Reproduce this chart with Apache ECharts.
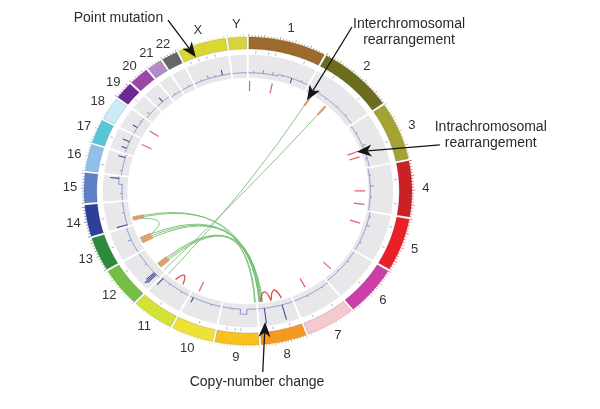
<!DOCTYPE html>
<html><head><meta charset="utf-8">
<script src="https://cdn.jsdelivr.net/npm/echarts@6/dist/echarts.min.js"></script>
<style>html,body{margin:0;padding:0;background:#fff}#c{width:600px;height:409px}</style>
</head><body><div id="c"></div>
<script>
// ---------------- DATA ----------------
const chromosomes = ['1','2','3','4','5','6','7','8','9','10','11','12','13','14','15','16','17','18','19','20','21','22','X','Y'];
const chromLengthsMb = [249.3,243.2,198.0,191.2,180.9,171.1,159.1,146.4,141.2,135.5,135.0,133.9,115.2,107.3,102.5,90.4,81.2,78.1,59.1,63.0,48.1,51.3,155.3,59.4];

// point mutations: [chromosome, position Mb]
const pointMutations = [
  ['1',25],['1',70],['1',95],['1',200],['2',60],['2',180],['3',120],['4',60],['4',150],
  ['5',40],['5',120],['6',90],['7',40],['7',120],['8',40],['8',100],['9',60],['9',80],['9',110],
  ['10',60],['11',70],['12',100],['13',60],['14',50],['16',30],['17',40],['19',30],
  ['X',20],['X',50],['X',80],['X',110]
];

// copy-number segments: [chromosome, start Mb, end Mb, level]
const copyNumberSegments = [
  ['1',0,120,1],['1',120,249.3,2],['2',0,243.2,1],['3',0,198,0],['4',0,191.2,-1],['5',0,180.9,0],
  ['6',0,171.1,0],['7',0,159.1,1],['8',0,146.4,1],['9',0,40,1],['9',40,66,4],['9',66,141.2,1],
  ['10',0,135.5,1],['11',0,135,1],['12',0,133.9,2],['13',0,115.2,2],['14',0,107.3,1],
  ['15',0,70,1],['15',70,102.5,3],['16',0,90.4,2],['17',0,81.2,3],['18',0,78.1,3],['19',0,59.1,2],
  ['20',0,63,2],['21',0,48.1,1],['22',0,51.3,1],['X',0,155.3,1],['Y',0,59.4,1]
];
// copy-number spikes: [chromosome, position Mb, change]
const copyNumberSpikes = [
  ['1',20,1],['1',60,2],['1',100,2],['1',140,-1],['1',180,-3],['1',220,1],['2',40,1],['2',90,-1],['2',150,1],['2',200,1],
  ['3',40,1],['3',100,2],['3',160,-1],['4',30,1],['4',80,2],['4',130,1],['5',20,1],['5',60,2],['5',140,1],
  ['6',50,1],['6',110,-1],['7',30,1],['7',100,1],['8',46,9],['8',121,9],['9',100,1],['10',40,1],['10',120,3],
  ['11',30,1],['11',90,1],['11',128,5],['12',18,7],['12',24,8],['12',30,6],['12',80,1],['13',60,2],
  ['14',5,6],['14',60,1],['15',30,1],['15',95,5],['16',20,1],['16',78,4],['17',20,3],['17',50,4],['18',30,3],['18',60,1],
  ['19',20,2],['20',30,3],['21',20,1],['22',30,1],['X',30,1],['X',60,2],['X',90,1],['X',120,3]
];

// short intrachromosomal rearrangements: [chromosome, position Mb]
const intraMarks = [
  ['1',4.5],['1',106],['3',117],['3',144],['4',102],['4',166],['5',58],['6',125],['7',90],
  ['10',110],['17',60],['18',45]
];
// intrachromosomal links: [chromosome, start Mb, end Mb]
const intraLinks = [['8',40,87],['8',87,134],['11',45,85]];
// interchromosomal links: [chrA, posA, chrB, posB]
const interLinks = [
  ['2',30,'11',125],['2',110,'12',10],['14',23,'13',37],['14',23,'8',135],
  ['12',32,'8',132],['13',40,'8',138],['13',50,'8',128],['12',40,'9',3],
  ['13',30,'8',124],['12',48,'8',140],['14',30,'9',6]
];

const annotationTexts = ['Point mutation','Interchromosomal\nrearrangement','Intrachromosomal\nrearrangement','Copy-number change'];
// annotation targets: [chromosome, position Mb]
const annotationTargets = [['X',44],['2',26],['3',117],['8',125]];

// ---------------- LAYOUT / STYLE ----------------
const chromColors = ['#9b6a2c','#6d6c1e','#a3a232','#c92125','#ea2026','#cc3fa6','#f6c8cf','#f49a22','#f7c21b','#efe236','#d3e234','#73bf44','#2e8b3e','#2d3f98','#5b80c5','#8fc0e9','#58c5d9','#c9ecf7','#6b2a8f','#9a47a6','#b48bc9','#666666','#d9d832','#d6d53c'];
const GAP = 0.8, START = 0.3;
const R = {ringIn:0.922, ringOut:1.0, trackIn:0.735, trackOut:0.885, cnBase:0.757, cnUnit:0.011,
  pmIn:0.893, pmOut:0.91, intraIn:0.65, intraOut:0.715, link:0.725, label:1.085};
const annotationLayout = [
  {tipR:0.925, tail:[-0.488,1.11], text:[-0.79,1.123]},
  {tipR:0.69, tail:[0.634,1.065], text:[0.982,1.032]},
  {tipR:0.71, tail:[1.17,0.30], text:[1.48,0.364]},
  {tipR:0.857, tail:[0.09,-1.175], text:[0.055,-1.24]}
];
const FONT = '"Liberation Sans", Arial, Helvetica, sans-serif';

const TOTAL = chromLengthsMb.reduce((a,b)=>a+b,0);
const DEG_PER_MB = (360 - GAP*chromosomes.length)/TOTAL;
const chrStart = [];
(function(){let acc=START; chromLengthsMb.forEach(l=>{chrStart.push(acc); acc+=l*DEG_PER_MB+GAP;});})();
const ci = c => chromosomes.indexOf(c);
const ang = (c, mb) => chrStart[ci(c)] + mb*DEG_PER_MB;
const P = (r, deg) => {const a=deg*Math.PI/180; return [r*Math.sin(a), r*Math.cos(a)];};

function band(api, r0, r1, d0, d1){
  const pts=[]; const n=Math.max(2,Math.ceil((d1-d0)/0.5));
  for(let k=0;k<=n;k++) pts.push(api.coord(P(r1,d0+(d1-d0)*k/n)));
  for(let k=n;k>=0;k--) pts.push(api.coord(P(r0,d0+(d1-d0)*k/n)));
  return pts;
}
function radial(api, deg, r0, r1, color, w){
  const a=api.coord(P(r0,deg)), b=api.coord(P(r1,deg));
  return {type:'line', shape:{x1:a[0],y1:a[1],x2:b[0],y2:b[1]}, style:{stroke:color, lineWidth:w}};
}
function linkShape(api, dA, dB){
  let d=Math.abs(dA-dB); let mid=(dA+dB)/2; if(d>180){d=360-d; mid+=180;}
  const rc=R.link*Math.max(0,1-d/30);
  const p1=api.coord(P(R.link,dA)), p2=api.coord(P(R.link,dB)), c=api.coord(P(rc,mid));
  return {x1:p1[0],y1:p1[1],x2:p2[0],y2:p2[1],cpx1:c[0],cpy1:c[1]};
}
const idxData = arr => arr.map((_,i)=>[i,0]);

const series = [];
// gray track
series.push({type:'custom', silent:true, data:idxData(chromosomes), renderItem:(p,api)=>{
  const i=p.dataIndex, d0=chrStart[i], d1=d0+chromLengthsMb[i]*DEG_PER_MB;
  return {type:'polygon', shape:{points:band(api,R.trackIn,R.trackOut,d0,d1)}, style:{fill:'#e8e8eb'}};
}});
// copy number
series.push({type:'custom', silent:true, data:idxData(chromosomes), renderItem:(p,api)=>{
  const i=p.dataIndex, c=chromosomes[i], len=chromLengthsMb[i];
  const segs=copyNumberSegments.filter(s=>s[0]===c);
  const lvl = mb => {let v=0; segs.forEach(s=>{if(mb>=s[1]&&mb<=s[2]) v=s[3];}); return v;};
  const pts=[]; let prev=null;
  for(let mb=0; mb<=len; mb+=1){
    const v=lvl(mb);
    if(prev!==null && v!==prev) pts.push(api.coord(P(R.cnBase+prev*R.cnUnit, ang(c,mb))));
    pts.push(api.coord(P(R.cnBase+v*R.cnUnit, ang(c,mb)))); prev=v;
  }
  const ch=[{type:'polyline', shape:{points:pts}, style:{stroke:'#7884c0', lineWidth:0.9, fill:null}}];
  copyNumberSpikes.filter(s=>s[0]===c).forEach(s=>{
    const b=lvl(s[1]);
    const big=Math.abs(s[2])>=3;
    ch.push(radial(api, ang(c,s[1]), R.cnBase+b*R.cnUnit, R.cnBase+(b+s[2])*R.cnUnit, big?'#3d4f94':'#7884c0', big?1.1:0.9));
  });
  return {type:'group', children:ch};
}});
// point mutations
series.push({type:'custom', silent:true, data:idxData(pointMutations), renderItem:(p,api)=>{
  const m=pointMutations[p.dataIndex];
  return radial(api, ang(m[0],m[1]), R.pmIn, R.pmOut, '#a3a7c4', 0.9);
}});
// intrachromosomal marks
series.push({type:'custom', silent:true, data:idxData(intraMarks), renderItem:(p,api)=>{
  const m=intraMarks[p.dataIndex];
  return radial(api, ang(m[0],m[1]), R.intraIn, R.intraOut, '#e0606a', 1.2);
}});
// interchromosomal links
series.push({type:'custom', silent:true, data:idxData(interLinks), renderItem:(p,api)=>{
  const l=interLinks[p.dataIndex];
  const sh=linkShape(api, ang(l[0],l[1]), ang(l[2],l[3]));
  return {type:'group', children:[
    {type:'bezierCurve', shape:sh, style:{stroke:'rgba(105,185,105,0.8)', lineWidth:1, fill:null}},
    {type:'bezierCurve', shape:Object.assign({percent:0.05},sh), style:{stroke:'#d9a273', lineWidth:2.4, fill:null}}
  ]};
}});
// intrachromosomal links
series.push({type:'custom', silent:true, data:idxData(intraLinks), renderItem:(p,api)=>{
  const l=intraLinks[p.dataIndex];
  return {type:'bezierCurve', shape:linkShape(api, ang(l[0],l[1]), ang(l[0],l[2])), style:{stroke:'#e2474d', lineWidth:1.3, fill:null}};
}});
// chromosome ring + ticks + labels
series.push({type:'custom', silent:true, data:idxData(chromosomes), renderItem:(p,api)=>{
  const i=p.dataIndex, len=chromLengthsMb[i], d0=chrStart[i], d1=d0+len*DEG_PER_MB;
  const ch=[{type:'polygon', shape:{points:band(api,R.ringIn,R.ringOut,d0,d1)}, style:{fill:chromColors[i], stroke:'rgba(60,60,60,0.3)', lineWidth:0.6}}];
  for(let mb=0; mb<=len; mb+=10){
    const ln = mb%50===0 ? 1.02 : 1.012;
    ch.push(radial(api, ang(chromosomes[i],mb), R.ringOut, ln, chromColors[i], 0.6));
  }
  const lp=api.coord(P(R.label,(d0+d1)/2));
  ch.push({type:'text', x:lp[0], y:lp[1], style:{text:chromosomes[i], fill:'#333', font:'13px '+FONT, align:'center', verticalAlign:'middle'}});
  return {type:'group', children:ch};
}});
// annotations
series.push({type:'custom', silent:true, data:idxData(annotationTexts), renderItem:(p,api)=>{
  const i=p.dataIndex, L=annotationLayout[i], t=annotationTargets[i];
  const tip=api.coord(P(L.tipR, ang(t[0],t[1]))), tail=api.coord(L.tail), tp=api.coord(L.text);
  const dx=tip[0]-tail[0], dy=tip[1]-tail[1], len=Math.hypot(dx,dy), ux=dx/len, uy=dy/len, nx=-uy, ny=ux;
  const HL=15, HW=6;
  const base=[tip[0]-ux*HL, tip[1]-uy*HL], notch=[tip[0]-ux*HL*0.72, tip[1]-uy*HL*0.72];
  return {type:'group', children:[
    {type:'line', shape:{x1:tail[0],y1:tail[1],x2:notch[0],y2:notch[1]}, style:{stroke:'#151515', lineWidth:1.3}},
    {type:'polygon', shape:{points:[tip,[base[0]+nx*HW,base[1]+ny*HW],notch,[base[0]-nx*HW,base[1]-ny*HW]]}, style:{fill:'#151515'}},
    {type:'text', x:tp[0], y:tp[1], style:{text:annotationTexts[i], fill:'#2a2a2a', font:'14px '+FONT, align:'center', verticalAlign:'middle', lineHeight:16}}
  ]};
}});

const chart = echarts.init(document.getElementById('c'));
chart.setOption({
  animation:false,
  grid:{left:84, top:37, width:328, height:308},
  xAxis:{type:'value', min:-1, max:1, show:false},
  yAxis:{type:'value', min:-1, max:1, show:false},
  series:series
});
</script></body></html>
